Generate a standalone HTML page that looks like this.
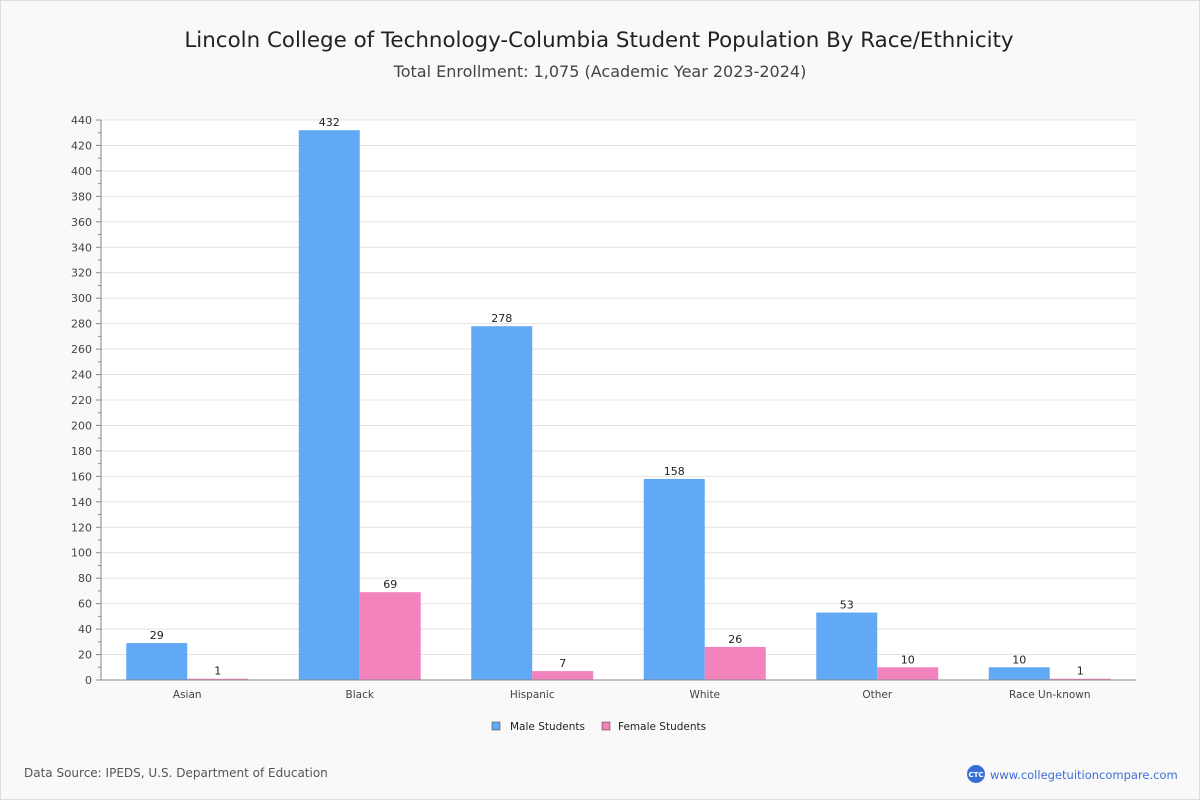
<!DOCTYPE html>
<html><head><meta charset="utf-8"><style>
body{margin:0;background:#fff;font-family:"DejaVu Sans","Liberation Sans",sans-serif}
#wrap{position:relative;width:1198px;height:798px;border:1px solid #ddd;background:#f9f9f9}
</style></head><body>
<div id="wrap">
<svg id="chart" width="1198" height="798"></svg>
</div>
<script>
const categories=["Asian","Black","Hispanic","White","Other","Race Un-known"];
const maleValues=[29,432,278,158,53,10];
const femaleValues=[1,69,7,26,10,1];
const yTicks=[0,20,40,60,80,100,120,140,160,180,200,220,240,260,280,300,320,340,360,380,400,420,440];
const NS="http://www.w3.org/2000/svg";
const svg=document.getElementById('chart');
const L=100,R=1135,T=119,B=679,YMAX=440;
function y(v){return B-(v/YMAX)*(B-T);}
const gw=(R-L)/categories.length;
function gx(i){return L+gw*i;}
function mk(tag,attrs,txt){const e=document.createElementNS(NS,tag);for(const k in attrs)e.setAttribute(k,attrs[k]);if(txt!==undefined)e.textContent=txt;svg.appendChild(e);return e;}
let e;
e=mk('text',{x:598,y:46,'text-anchor':'middle','font-size':21.4,fill:'#222'},'Lincoln College of Technology-Columbia Student Population By Race/Ethnicity');


e=mk('text',{x:599,y:76,'text-anchor':'middle','font-size':16,fill:'#444'},'Total Enrollment: 1,075 (Academic Year 2023-2024)');


e=mk('rect',{x:L,y:T,width:R-L,height:B-T,fill:'#fff'});


for(let v=0;v<=YMAX;v+=10){
  const yy=y(v);
  if(v%20===0){
    if(v>0){e=mk('line',{x1:L,x2:R,y1:yy,y2:yy,stroke:'#e3e3e3'});
    
    }
    mk('line',{x1:L-5,x2:L,y1:yy,y2:yy,stroke:'#888'});
  } else mk('line',{x1:L-3,x2:L,y1:yy,y2:yy,stroke:'#888'});
}
yTicks.forEach(v=>{e=mk('text',{x:L-9,y:y(v)+4,'text-anchor':'end','font-size':11,fill:'#444'},String(v));

});
const bw=61;
categories.forEach((c,i)=>{
  const cx=gx(i)+gw/2;
  e=mk('rect',{x:cx-bw,y:y(maleValues[i]),width:bw,height:B-y(maleValues[i]),fill:'#62a9f5'});
  
  
  e=mk('rect',{x:cx,y:y(femaleValues[i]),width:bw,height:B-y(femaleValues[i]),fill:'#f283bd'});
  
  
  e=mk('text',{x:cx-bw/2,y:y(maleValues[i])-4,'text-anchor':'middle','font-size':11,fill:'#222'},String(maleValues[i]));
  
  
  e=mk('text',{x:cx+bw/2,y:y(femaleValues[i])-4,'text-anchor':'middle','font-size':11,fill:'#222'},String(femaleValues[i]));
  
  
  e=mk('text',{x:cx,y:B+18,'text-anchor':'middle','font-size':10.5,fill:'#444'},c);
  
  
});
mk('line',{x1:L,x2:L,y1:T,y2:B,stroke:'#888'});
mk('line',{x1:L,x2:R,y1:B,y2:B,stroke:'#888'});
e=mk('rect',{x:491,y:721,width:8,height:8,fill:'#62a9f5',stroke:'#333','stroke-width':0.5});


e=mk('text',{x:509,y:729,'font-size':10.5,fill:'#222'},'Male Students');


e=mk('rect',{x:601,y:721,width:8,height:8,fill:'#f283bd',stroke:'#333','stroke-width':0.5});


e=mk('text',{x:617,y:729,'font-size':10.5,fill:'#222'},'Female Students');


e=mk('text',{x:23,y:776,'font-size':12,fill:'#555'},'Data Source: IPEDS, U.S. Department of Education');


e=mk('circle',{cx:975,cy:773,r:9,fill:'#3b6fd8'});


mk('text',{x:975,y:776,'text-anchor':'middle','font-size':7,fill:'#fff','font-weight':'bold'},'CTC');
e=mk('text',{x:989,y:778,'font-size':11.5,fill:'#3b6fd8'},'www.collegetuitioncompare.com');


</script>
</body></html>
